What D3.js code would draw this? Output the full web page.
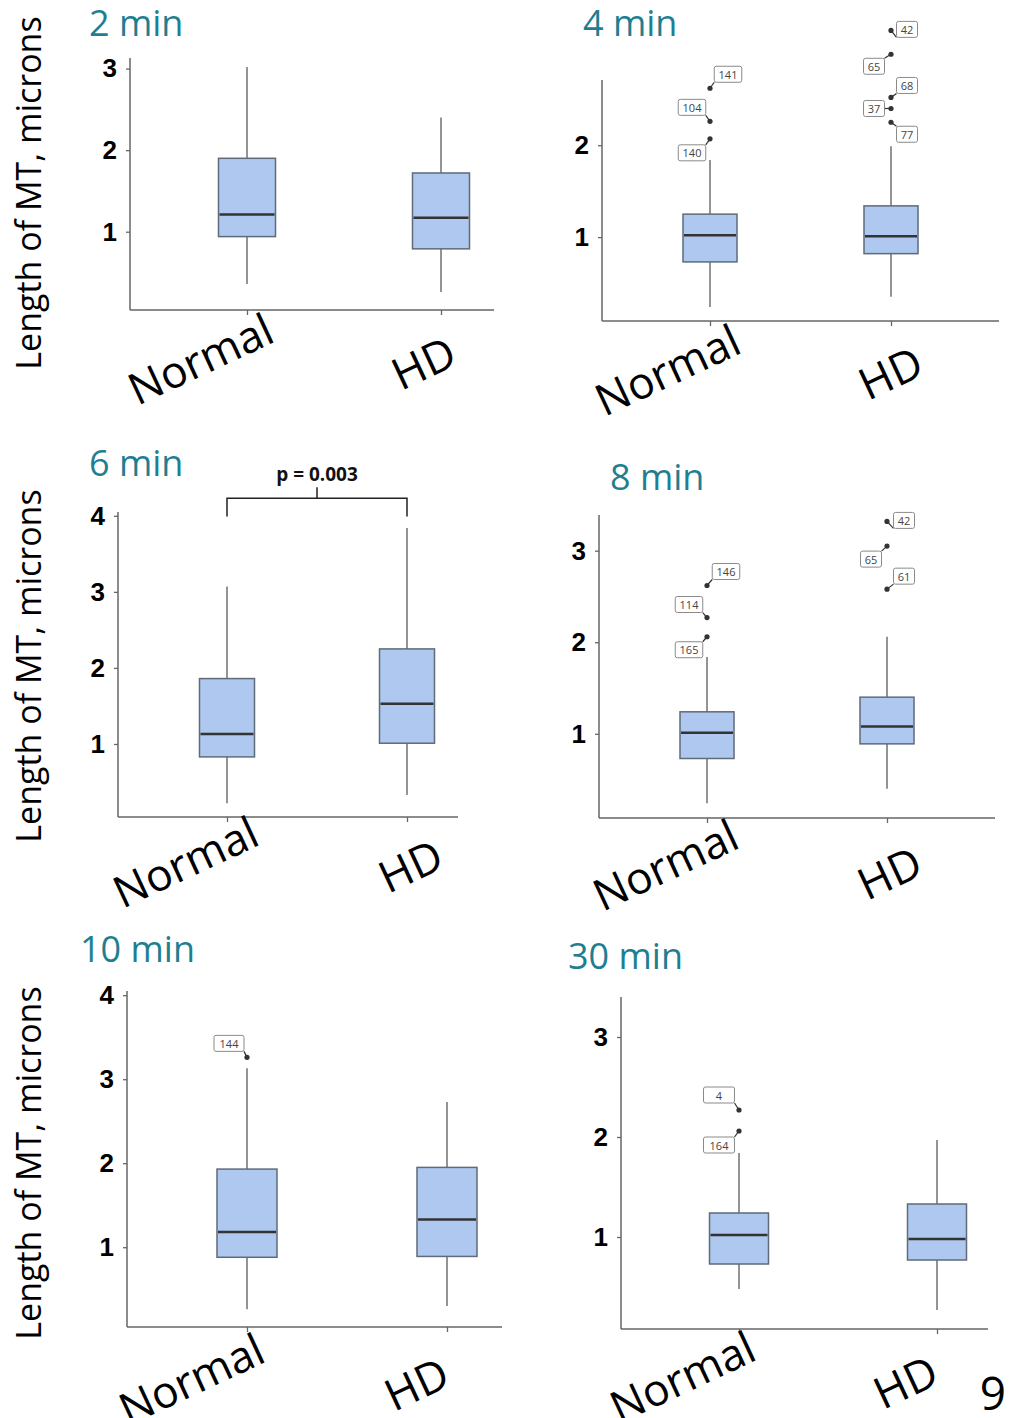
<!DOCTYPE html>
<html>
<head>
<meta charset="utf-8">
<script src="https://cdn.jsdelivr.net/npm/d3@7"></script>
<style>
  body { margin: 0; background: #fff; }
  svg { display: block; font-family: "Open Sans", sans-serif; }
</style>
</head>
<body>
<div id="chart-area"></div>
<script>
// Data
var categories = ["Normal", "HD"]
var panelTitles = ["2 min", "4 min", "6 min", "8 min", "10 min", "30 min"]
var yTicks = [[1, 2, 3], [1, 2], [1, 2, 3, 4], [1, 2, 3], [1, 2, 3, 4], [1, 2, 3]]

// box stats per panel: [low whisker, Q1, median, Q3, high whisker] for Normal, HD
var stats2min = [[0.36, 0.94, 1.21, 1.90, 3.02], [0.26, 0.79, 1.17, 1.72, 2.40]]
var stats4min = [[0.24, 0.73, 1.02, 1.25, 1.84], [0.35, 0.82, 1.01, 1.34, 1.99]]
var stats6min = [[0.22, 0.83, 1.13, 1.86, 3.07], [0.33, 1.01, 1.53, 2.25, 3.84]]
var stats8min = [[0.24, 0.73, 1.01, 1.24, 1.84], [0.40, 0.89, 1.08, 1.40, 2.06]]
var stats10min = [[0.26, 0.88, 1.18, 1.93, 3.13], [0.30, 0.89, 1.33, 1.95, 2.73]]
var stats30min = [[0.48, 0.73, 1.02, 1.24, 1.84], [0.27, 0.77, 0.98, 1.33, 1.97]]

// outliers: [category, case id, value]
var outliers4min = [["Normal", "141", 2.62], ["Normal", "104", 2.26], ["Normal", "140", 2.07],
                    ["HD", "42", 3.25], ["HD", "65", 2.99], ["HD", "68", 2.52], ["HD", "37", 2.40], ["HD", "77", 2.25]]
var outliers8min = [["Normal", "146", 2.62], ["Normal", "114", 2.27], ["Normal", "165", 2.06],
                    ["HD", "42", 3.32], ["HD", "65", 3.05], ["HD", "61", 2.58]]
var outliers10min = [["Normal", "144", 3.26]]
var outliers30min = [["Normal", "4", 2.27], ["Normal", "164", 2.06]]

var pValue6min = "p = 0.003"

// Layout (pixels) for each panel
var panels = [
  {stats: stats2min, out: [], left: 130, right: 494, top: 58, bottom: 310, dom: [0.04, 3.13],
   cx: [247, 441], boxW: 57, title: [89, 36], ylab: 193, catOff: [[-47, 48], [-18, 52]]},
  {stats: stats4min, out: outliers4min, left: 602, right: 999, top: 80, bottom: 321, dom: [0.087, 2.71],
   cx: [710, 891], boxW: 54, title: [583, 36], catOff: [[-43, 48], [-1, 51]],
   lab: [[18, -14], [-18, -14], [-18, 14], [16, -1], [-17, 12], [16, -12], [-17, 0], [16, 12]]},
  {stats: stats6min, out: [], left: 118, right: 458, top: 512, bottom: 817, dom: [0.04, 4.05],
   cx: [227, 407], boxW: 55, title: [89, 476], ylab: 666, catOff: [[-42, 44], [3, 48]]},
  {stats: stats8min, out: outliers8min, left: 599, right: 995, top: 515, bottom: 818, dom: [0.08, 3.39],
   cx: [707, 887], boxW: 54, title: [610, 490], catOff: [[-42, 46], [2, 54]],
   lab: [[19, -14], [-18, -13], [-18, 13], [17, -1], [-16, 13], [17, -13]]},
  {stats: stats10min, out: outliers10min, left: 127, right: 502, top: 991, bottom: 1327, dom: [0.05, 4.05],
   cx: [247, 447], boxW: 60, title: [80, 962], ylab: 1163, catOff: [[-56, 51], [-31, 56]],
   lab: [[-18, -14]], labW: 30},
  {stats: stats30min, out: outliers30min, left: 621, right: 988, top: 997, bottom: 1329, dom: [0.08, 3.40],
   cx: [739, 937], boxW: 59, title: [568, 969], catOff: [[-57, 47], [-32, 52]],
   lab: [[-20, -15], [-20, 14]], labW: 31}
]

var svg = d3.select("#chart-area")
    .append("svg")
        .attr("width", 1012)
        .attr("height", 1418)

panels.forEach(function(p, i){
    var g = svg.append("g")

    var y = d3.scaleLinear().domain(p.dom).range([p.bottom, p.top])
    var x = d3.scalePoint().domain(categories).range(p.cx)

    // title
    g.append("text")
        .attr("x", p.title[0])
        .attr("y", p.title[1])
        .attr("font-size", 36)
        .attr("fill", "#1f7f91")
        .text(panelTitles[i])

    // y axis
    var yAxis = g.append("g")
        .attr("transform", "translate(" + p.left + ",0)")
        .call(d3.axisLeft(y).tickValues(yTicks[i]).tickSize(4).tickPadding(9).tickFormat(d3.format("d")))
    yAxis.select(".domain").attr("d", "M0," + p.top + "V" + p.bottom).attr("stroke", "#666").attr("stroke-width", 1.5)
    yAxis.selectAll(".tick line").attr("stroke", "#666").attr("stroke-width", 1.3)
    yAxis.selectAll(".tick text")
        .attr("font-size", 26)
        .attr("font-weight", "bold")
        .attr("fill", "#000")

    // x axis
    var xAxis = g.append("g")
        .attr("transform", "translate(0," + p.bottom + ")")
        .call(d3.axisBottom(x).tickSize(5).tickFormat(""))
    xAxis.select(".domain").attr("d", "M" + p.left + ",0H" + p.right).attr("stroke", "#666").attr("stroke-width", 1.5)
    xAxis.selectAll(".tick line").attr("stroke", "#666").attr("stroke-width", 1.3)

    categories.forEach(function(c, k){
        g.append("text")
            .attr("transform", "translate(" + (x(c) + p.catOff[k][0]) + "," + (p.bottom + p.catOff[k][1]) + ") rotate(-25)")
            .attr("text-anchor", "middle")
            .attr("dominant-baseline", "central")
            .attr("font-size", 44)
            .attr("fill", "#000")
            .text(c)
    })

    // y label on left column
    if (p.ylab) {
        g.append("text")
            .attr("transform", "translate(41," + p.ylab + ") rotate(-90)")
            .attr("text-anchor", "middle")
            .attr("font-size", 34)
            .attr("fill", "#000")
            .text("Length of MT, microns")
    }

    // boxes
    var boxes = g.selectAll(".box")
        .data(p.stats)
        .enter().append("g")
        .attr("class", "box")
        .attr("transform", (d, k) => "translate(" + x(categories[k]) + ",0)")

    boxes.append("line")
        .attr("y1", d => y(d[0])).attr("y2", d => y(d[4]))
        .attr("stroke", "#707070").attr("stroke-width", 1.5)
    boxes.append("rect")
        .attr("x", -p.boxW / 2)
        .attr("width", p.boxW)
        .attr("y", d => y(d[3]))
        .attr("height", d => y(d[1]) - y(d[3]))
        .attr("fill", "#aec8f0")
        .attr("stroke", "#5f6b78")
        .attr("stroke-width", 1.5)
    boxes.append("line")
        .attr("x1", -p.boxW / 2 + 1).attr("x2", p.boxW / 2 - 1)
        .attr("y1", d => y(d[2])).attr("y2", d => y(d[2]))
        .attr("stroke", "#333").attr("stroke-width", 2.5)

    // outliers with labelled case ids
    p.out.forEach(function(o, k){
        var px = x(o[0]), py = y(o[2])
        var off = p.lab[k]
        var w = p.labW || (o[1].length * 6.5 + 8), h = 16
        var bx = px + off[0], by = py + off[1]
        var cxn = bx - Math.sign(off[0]) * w / 2
        var cyn = off[1] === 0 ? by : by - Math.sign(off[1]) * h / 2
        g.append("line")
            .attr("x1", px).attr("y1", py).attr("x2", cxn).attr("y2", cyn)
            .attr("stroke", "#333").attr("stroke-width", 1.2)
        g.append("rect")
            .attr("x", bx - w / 2).attr("y", by - h / 2)
            .attr("width", w).attr("height", h)
            .attr("rx", 2)
            .attr("fill", "#fff").attr("stroke", "#8a8a8a").attr("stroke-width", 1)
        g.append("text")
            .attr("x", bx).attr("y", by)
            .attr("text-anchor", "middle")
            .attr("dominant-baseline", "central")
            .attr("font-size", 11)
            .attr("fill", "#444")
            .text(o[1])
        g.append("circle")
            .attr("cx", px).attr("cy", py).attr("r", 2.6)
            .attr("fill", "#333")
    })

    // significance bracket on 6 min panel
    if (i === 2) {
        var bY = y(4.23), legY = y(3.99)
        var mid = (x("Normal") + x("HD")) / 2
        g.append("path")
            .attr("d", "M" + x("Normal") + "," + legY + "V" + bY + "H" + x("HD") + "V" + legY +
                       "M" + mid + "," + bY + "V" + (bY - 11))
            .attr("fill", "none")
            .attr("stroke", "#222")
            .attr("stroke-width", 1.5)
        g.append("text")
            .attr("x", mid)
            .attr("y", bY - 17)
            .attr("text-anchor", "middle")
            .attr("font-size", 19)
            .attr("font-weight", "bold")
            .attr("fill", "#111")
            .text(pValue6min)
    }
})

// page number
svg.append("text")
    .attr("x", 993)
    .attr("y", 1410)
    .attr("text-anchor", "middle")
    .attr("font-size", 46)
    .attr("fill", "#000")
    .text("9")
</script>
</body>
</html>
